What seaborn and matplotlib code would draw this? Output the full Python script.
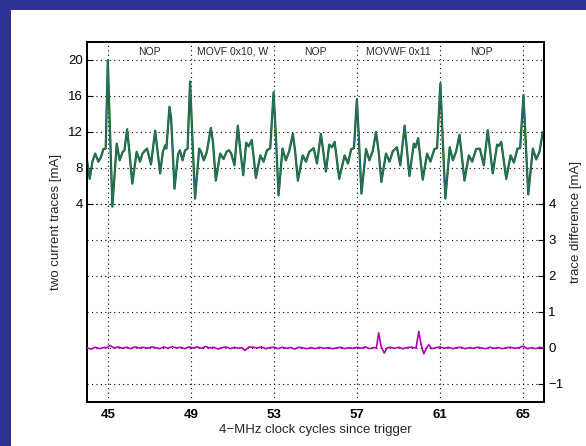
import numpy as np
import pandas as pd
import matplotlib.pyplot as plt
import seaborn as sns
from matplotlib.patches import Rectangle

sns.set_style("white")
plt.rcParams['font.family'] = ['Liberation Sans', 'DejaVu Sans']

# current trace (clock cycles, mA)
trace_t = [44.00, 44.13, 44.26, 44.39, 44.55, 44.67, 44.79, 44.90, 45.00, 45.11,
           45.22, 45.43, 45.57, 45.72, 45.80, 45.93, 46.04, 46.18, 46.39, 46.55,
           46.67, 46.80, 46.89, 47.08, 47.28, 47.52, 47.65, 47.76, 47.82, 47.97,
           48.05, 48.21, 48.38, 48.47, 48.60, 48.72, 48.84, 48.96, 49.08, 49.20,
           49.40, 49.49, 49.62, 49.77, 49.96, 50.06, 50.20, 50.41, 50.57, 50.73,
           50.84, 50.94, 51.10, 51.26, 51.37, 51.52, 51.66, 51.78, 51.93, 52.13,
           52.34, 52.50, 52.66, 52.82, 52.98, 53.09, 53.22, 53.41, 53.57, 53.73,
           53.91, 54.02, 54.15, 54.38, 54.54, 54.70, 54.91, 55.07, 55.26, 55.50,
           55.66, 55.79, 55.92, 56.14, 56.40, 56.56, 56.72, 56.85, 56.99, 57.08,
           57.21, 57.43, 57.59, 57.75, 57.91, 58.04, 58.17, 58.39, 58.56, 58.72,
           58.92, 59.08, 59.29, 59.52, 59.73, 59.81, 59.94, 60.16, 60.37, 60.53,
           60.72, 60.85, 61.01, 61.12, 61.25, 61.46, 61.61, 61.77, 61.93, 62.02,
           62.17, 62.38, 62.54, 62.73, 62.91, 63.10, 63.29, 63.53, 63.74, 63.82,
           63.94, 64.18, 64.39, 64.55, 64.72, 64.85, 65.01, 65.11, 65.24, 65.46,
           65.62, 65.78, 65.94, 66.05]
trace_ma = [8.85, 6.8, 8.7, 9.6, 8.7, 9.2, 10.1, 10.15, 19.96, 12.0,
            3.7, 10.7, 8.85, 9.8, 9.96, 12.3, 9.8, 6.26, 9.8, 8.7,
            9.6, 9.96, 10.15, 8.4, 12.15, 7.4, 9.8, 10.5, 10.15, 14.8,
            13.5, 5.7, 9.5, 9.96, 8.85, 9.96, 10.15, 17.6, 10.9, 4.6,
            10.15, 9.8, 8.85, 9.8, 12.45, 10.9, 6.6, 9.6, 9.0, 9.85,
            9.96, 9.6, 8.3, 12.7, 10.15, 7.2, 10.8, 10.4, 11.1, 6.9,
            9.4, 8.7, 9.96, 10.2, 16.4, 11.6, 4.96, 10.15, 8.85, 9.85,
            11.8, 9.8, 6.6, 9.4, 8.7, 9.8, 10.2, 8.5, 11.8, 7.6,
            10.6, 10.3, 10.9, 6.8, 9.4, 8.5, 10.1, 10.2, 15.65, 11.6,
            5.15, 10.1, 8.85, 9.85, 12.0, 9.8, 6.45, 9.6, 8.7, 9.85,
            10.3, 8.3, 12.7, 7.1, 10.7, 10.3, 11.3, 6.7, 9.6, 8.7,
            10.1, 10.2, 17.4, 11.3, 4.6, 10.3, 8.85, 9.85, 11.7, 9.8,
            6.6, 9.4, 8.7, 10.1, 10.15, 8.3, 12.2, 7.4, 10.6, 10.45,
            10.9, 6.8, 9.4, 8.6, 10.15, 10.2, 16.1, 11.3, 5.05, 10.15,
            8.95, 9.8, 12.0, 11.0]

# difference of the two traces (mA)
diff_t = [44.0, 44.2, 44.4, 44.6, 44.8, 45.0, 45.1, 45.3, 45.5, 45.7, 45.9,
          46.1, 46.3, 46.5, 46.7, 46.9, 47.1, 47.3, 47.5, 47.7, 47.9,
          48.1, 48.3, 48.5, 48.7, 48.9, 49.1, 49.3, 49.5, 49.7, 49.9,
          50.1, 50.3, 50.5, 50.7, 50.9, 51.1, 51.3, 51.45, 51.6, 51.8, 52.0,
          52.2, 52.4, 52.6, 52.8, 53.0, 53.2, 53.4, 53.6, 53.8, 54.0,
          54.2, 54.4, 54.6, 54.8, 55.0, 55.2, 55.4, 55.6, 55.8, 56.0,
          56.2, 56.4, 56.6, 56.8, 57.0, 57.2, 57.4, 57.6, 57.8, 57.93,
          58.04, 58.15, 58.31, 58.44, 58.6, 58.8, 59.0, 59.2, 59.4, 59.6,
          59.84, 59.97, 60.08, 60.21, 60.33, 60.44, 60.6, 60.8, 61.0, 61.2,
          61.4, 61.6, 61.8, 62.0, 62.2, 62.4, 62.6, 62.8, 63.0, 63.2,
          63.4, 63.6, 63.8, 64.0, 64.2, 64.4, 64.6, 64.8, 65.0, 65.2,
          65.4, 65.6, 65.8, 66.0]
diff_ma = [0.0, -0.03, 0.02, -0.02, 0.01, 0.02, 0.07, 0.0, 0.03, -0.01, 0.02,
           -0.02, 0.03, 0.0, 0.02, -0.01, 0.03, 0.01, -0.02, 0.03, -0.01,
           0.04, 0.0, 0.02, -0.02, 0.03, 0.0, 0.03, -0.01, 0.04, 0.0,
           0.02, -0.03, 0.01, 0.03, -0.02, 0.02, -0.01, 0.01, -0.07, 0.03, 0.02,
           0.0, 0.03, -0.02, 0.01, 0.02, -0.02, 0.02, -0.01, 0.01, -0.03,
           0.02, 0.0, -0.02, 0.01, -0.02, 0.02, -0.01, 0.01, -0.02, 0.0,
           0.02, -0.02, 0.01, -0.01, 0.02, -0.01, 0.03, -0.02, 0.01, 0.0,
           0.42, 0.05, -0.14, 0.0, 0.02, -0.01, 0.02, -0.02, 0.01, 0.02,
           0.0, 0.46, 0.1, -0.16, -0.02, 0.09, -0.02, 0.01, 0.03, -0.01,
           0.02, -0.02, 0.01, 0.02, -0.02, 0.01, -0.01, 0.02, 0.0, -0.02,
           0.02, -0.01, 0.01, -0.02, 0.01, 0.02, -0.01, 0.01, 0.05, -0.02,
           0.01, -0.02, 0.02, 0.0]

op_x = [47, 51, 55, 59, 63]
op_names = ['NOP', 'MOVF 0x10, W', 'NOP', 'MOVWF 0x11', 'NOP']
xtick_vals = [45, 49, 53, 57, 61, 65]
left_ticks = [4, 8, 12, 16, 20]
right_ticks = [-1, 0, 1, 2, 3, 4]

df = pd.DataFrame({'t': trace_t, 'mA': trace_ma})
dd = pd.DataFrame({'t': diff_t, 'mA': diff_ma})

BG = '#2e3192'
fig = plt.figure(figsize=(5.86, 4.46), dpi=100, facecolor=BG)
fig.patches.append(Rectangle((11 / 586, 0), 1, 436 / 446, transform=fig.transFigure,
                             facecolor='white', edgecolor='none', zorder=-10))

ax = fig.add_axes([0.1485, 0.0987, 0.7799, 0.8072])
ax.set_facecolor('white')
dot = (0, (1, 3))

# two nearly identical traces: green under, blue on top
sns.lineplot(data=df, x='t', y='mA', ax=ax, color='#006400', linewidth=1.6, zorder=3)
sns.lineplot(data=df, x='t', y='mA', ax=ax, color='#3a7090', linewidth=1.0, alpha=0.8, zorder=4)

ax.set_xlim(44, 66)
ax.set_ylim(-18, 22)
ax.set_xticks(xtick_vals)
ax.set_xticklabels([str(v) for v in xtick_vals], fontweight='bold')
ax.set_yticks(left_ticks)
ax.grid(True, color='k', linestyle=dot, linewidth=0.8)
ax.set_axisbelow(True)
ax.tick_params(direction='in', length=4, width=0.8, labelsize=9.5, colors='k', pad=5)
ax.tick_params(axis='y', pad=3)
ax.set_xlabel('4\u2212MHz clock cycles since trigger', fontsize=9.5, labelpad=2)
ax.set_ylabel('two current traces [mA]', fontsize=9.5, labelpad=4)

for x, name in zip(op_x, op_names):
    ax.text(x, 20.9, name, ha='center', va='center', fontsize=7.5)

ax2 = ax.twinx()
sns.lineplot(data=dd, x='t', y='mA', ax=ax2, color='#b400b4', linewidth=1.2, zorder=3)
ax2.set_ylim(-1.5, 8.5)
ax2.set_yticks(right_ticks)
ax2.set_yticklabels(['\u22121', '0', '1', '2', '3', '4'])
ax2.grid(True, axis='y', color='k', linestyle=dot, linewidth=0.8)
ax2.tick_params(direction='in', length=4, width=0.8, labelsize=9.5, colors='k', pad=3)
ax2.set_xlabel('')
ax2.set_ylabel('trace difference [mA]', fontsize=9.5, labelpad=5)

for a in (ax, ax2):
    for s in a.spines.values():
        s.set_visible(True)
        s.set_color('k')
        s.set_linewidth(1.4)

fig.savefig('out.png', dpi=100, facecolor=fig.get_facecolor())
